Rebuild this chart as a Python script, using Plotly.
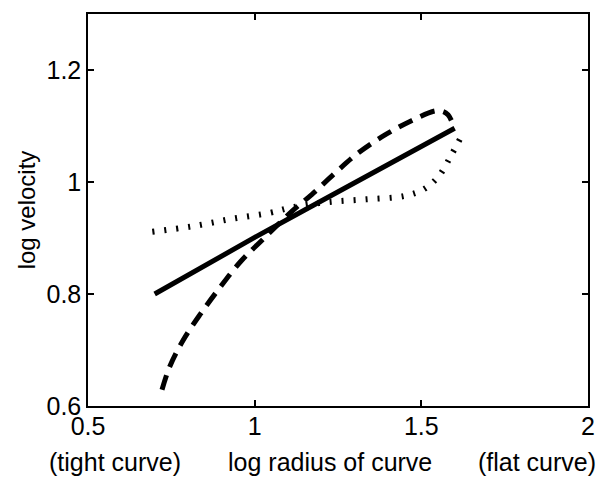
import plotly.graph_objects as go

# Solid (fitted) line
solid_x = [0.70, 0.85, 1.00, 1.15, 1.30, 1.45, 1.60]
solid_y = [0.800, 0.851, 0.901, 0.950, 0.998, 1.047, 1.096]

# Dashed curve
dash_x = [0.722, 0.745, 0.785, 0.837, 0.895, 0.958, 1.022, 1.114, 1.172, 1.241,
          1.311, 1.391, 1.472, 1.542, 1.565, 1.580, 1.590]
dash_y = [0.629, 0.670, 0.717, 0.764, 0.811, 0.858, 0.896, 0.949, 0.978, 1.016,
          1.052, 1.084, 1.110, 1.127, 1.126, 1.120, 1.110]

# Dotted curve
dot_x = [0.693, 0.814, 0.930, 1.045, 1.114, 1.218, 1.334, 1.449, 1.507, 1.553,
         1.588, 1.617]
dot_y = [0.911, 0.921, 0.934, 0.945, 0.955, 0.964, 0.969, 0.975, 0.987, 1.011,
         1.046, 1.078]

x_ticks = [0.5, 1, 1.5, 2]
x_tick_text = ["0.5", "1", "1.5", "2"]
y_ticks = [0.6, 0.8, 1.0, 1.2]
y_tick_text = ["0.6", "0.8", "1", "1.2"]

FONT = "Liberation Sans, Arial, sans-serif"
FS = 25

fig = go.Figure()
fig.add_trace(go.Scatter(x=dot_x, y=dot_y, mode="lines", line_shape="spline",
                         line=dict(color="black", width=6, dash="2px,10px")))
fig.add_trace(go.Scatter(x=dash_x, y=dash_y, mode="lines", line_shape="spline",
                         line=dict(color="black", width=5, dash="15px,9px")))
fig.add_trace(go.Scatter(x=solid_x, y=solid_y, mode="lines",
                         line=dict(color="black", width=5)))

axis_common = dict(showline=True, linecolor="black", linewidth=1.5, mirror="ticks",
                   ticks="inside", ticklen=6, tickcolor="black", tickwidth=1.5,
                   showgrid=False, zeroline=False,
                   tickfont=dict(family=FONT, size=FS, color="black"))

fig.update_layout(
    width=607, height=479,
    margin=dict(l=88, r=14, t=12, b=73),
    paper_bgcolor="white", plot_bgcolor="white",
    showlegend=False,
    xaxis=dict(range=[0.5, 2], tickvals=x_ticks, ticktext=x_tick_text,
               ticklabelstandoff=-3, **axis_common),
    yaxis=dict(range=[0.6, 1.3], tickvals=y_ticks, ticktext=y_tick_text,
               title=dict(text="log velocity", font=dict(family=FONT, size=FS - 1, color="black"),
                          standoff=4),
               **axis_common),
)

labels = [("(tight curve)", 115), ("log radius of curve", 332), ("(flat curve)", 541)]
for txt, px in labels:
    fig.add_annotation(text=txt, xref="paper", yref="paper",
                       x=(px - 88) / (607 - 88 - 14), y=-(462 - 406) / (479 - 12 - 73),
                       xanchor="center", yanchor="middle", showarrow=False,
                       font=dict(family=FONT, size=FS, color="black"))

fig.write_html("out.html")
